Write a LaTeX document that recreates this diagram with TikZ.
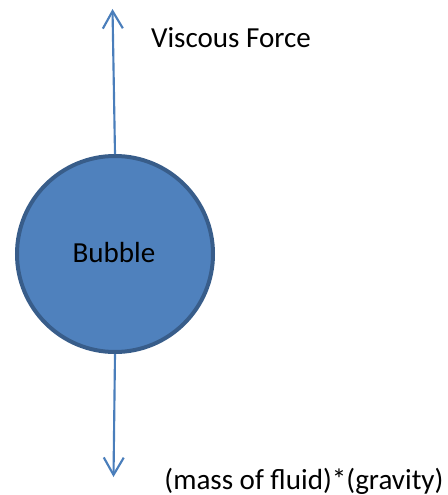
\documentclass[tikz,border=0pt]{standalone}
\usepackage{fontspec}
\setmainfont{Carlito}
\usetikzlibrary{arrows.meta}
\definecolor{bubfill}{HTML}{4F81BD}
\definecolor{bubedge}{HTML}{385D8A}
\definecolor{arrcol}{HTML}{4A7EBB}
\begin{document}
\begin{tikzpicture}[x=0.75pt,y=-0.75pt,
  lbl/.style={font=\fontsize{21.8}{26}\selectfont, inner sep=0pt, text=black},
  force/.style={draw=arrcol, line width=1.6pt, -{Straight Barb[length=13pt,width=15pt,line width=1.6pt]}},
  bub/.style={circle, fill=bubfill, draw=bubedge, line width=3pt, minimum size=147pt, inner sep=0pt}]
\useasboundingbox (0,0) rectangle (448,495);
\node[bub] (b) at (115,254) {};
\node[lbl] (bt) at (114,253) {Bubble};
\coordinate (top) at (112.5,9);
\coordinate (bot) at (113.5,477);
\draw[force] (b.north) -- (top);
\draw[force] (b.south) -- (bot);
\node[lbl] (vf) at (231,38) {Viscous Force};
\node[lbl] (mg) at (304,481) {(mass of fluid)*(gravity)};
\end{tikzpicture}
\end{document}
